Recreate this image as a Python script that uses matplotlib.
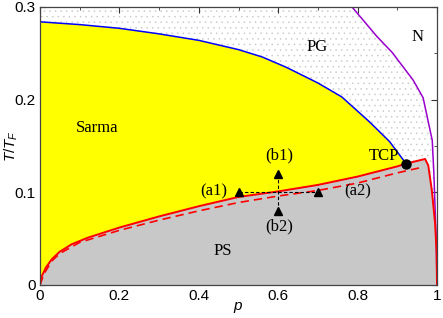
import matplotlib
matplotlib.use("Agg")
import matplotlib.pyplot as plt
from matplotlib.ticker import MultipleLocator

plt.rcParams["mathtext.fontset"] = "custom"
plt.rcParams["mathtext.it"] = "Liberation Sans:italic"
plt.rcParams["mathtext.rm"] = "Liberation Sans"
plt.rcParams["hatch.linewidth"] = 0.3

# Sarma / PS first-order boundary (solid red)
p_ps = [0, 0.004, 0.015, 0.03, 0.05, 0.08, 0.12, 0.2, 0.3, 0.4, 0.5, 0.6, 0.7, 0.8, 0.9, 0.922,
        0.97, 0.978, 0.987, 0.995, 0.999, 1.0]
t_ps = [0, 0.009, 0.019, 0.028, 0.036, 0.044, 0.051, 0.062, 0.074, 0.085, 0.095, 0.101, 0.108,
        0.117, 0.128, 0.131, 0.136, 0.129, 0.102, 0.067, 0.035, 0.0]

# approximate boundary (dashed red)
p_dash = [0, 0.01, 0.03, 0.05, 0.1, 0.2, 0.3, 0.4, 0.5, 0.6, 0.7, 0.8, 0.9, 0.962]
t_dash = [0, 0.012, 0.026, 0.034, 0.046, 0.059, 0.070, 0.080, 0.089, 0.096, 0.102, 0.110, 0.121, 0.127]

# Sarma / PG boundary (blue), ends at the TCP
p_sarma = [0, 0.1, 0.2, 0.3, 0.4, 0.45, 0.5, 0.56, 0.62, 0.7, 0.76, 0.83, 0.88, 0.922]
t_sarma = [0.284, 0.281, 0.277, 0.271, 0.264, 0.259, 0.254, 0.246, 0.235, 0.218, 0.203, 0.176, 0.155, 0.131]

# PG / N boundary (purple)
p_pg = [0.786, 0.849, 0.887, 0.94, 0.965, 0.988, 0.992, 0.998, 1.0]
t_pg = [0.3, 0.268, 0.251, 0.221, 0.202, 0.156, 0.121, 0.049, 0.0]

tcp = (0.922, 0.131)
a_pts = ([0.5, 0.7], [0.1, 0.1])
b_pts = ([0.6, 0.6], [0.12, 0.08])

serif = "Liberation Serif"
sans = "Liberation Sans"

fig = plt.figure(figsize=(4.43, 3.18), dpi=100)
ax = fig.add_axes([0.0903, 0.1038, 0.8962, 0.8742])

# dotted PG region: everything left of the purple line
ax.fill([0, 0] + p_pg, [0, 0.3] + t_pg,
        facecolor="white", edgecolor="#c4c4c4", hatch="...", linewidth=0, zorder=1)

# yellow Sarma region
ax.fill(p_sarma + p_ps[:16][::-1], t_sarma + t_ps[:16][::-1],
        facecolor="#ffff00", edgecolor="none", zorder=2)

# gray PS region
ax.fill(p_ps + [1.0, 0], t_ps + [0, 0], facecolor="#c8c8c8", edgecolor="none", zorder=2)

ax.plot(p_sarma, t_sarma, color="#0000ff", lw=1.1, zorder=3)
ax.plot(p_pg, t_pg, color="#9900cc", lw=1.1, zorder=3)
ax.plot(p_ps, t_ps, color="#ff0000", lw=1.4, zorder=4)
ax.plot(p_dash, t_dash, color="#ff0000", lw=1.2, ls=(0, (5, 3)), zorder=4)

ax.plot(a_pts[0], a_pts[1], color="black", lw=0.8, ls=(0, (3, 2)), zorder=5)
ax.plot(b_pts[0], b_pts[1], color="black", lw=0.8, ls=(0, (3, 2)), zorder=5)
ax.plot(a_pts[0] + b_pts[0], a_pts[1] + b_pts[1], "^", color="black", ms=6, ls="none", zorder=6)
ax.plot(*tcp, "o", color="black", ms=6.5, zorder=6)

txt = dict(fontsize=12, family=serif, ha="center", va="center", zorder=7)
ax.text(0.144, 0.169, "Sarma", **txt)
ax.text(0.698, 0.257, "PG", **txt)
ax.text(0.952, 0.268, "N", **txt)
ax.text(0.866, 0.139, "TCP", **txt)
ax.text(0.461, 0.037, "PS", **txt)
ax.text(0.437, 0.1015, "(a1)", **txt)
ax.text(0.80, 0.1015, "(a2)", **txt)
ax.text(0.603, 0.140, "(b1)", **txt)
ax.text(0.603, 0.063, "(b2)", **txt)

ax.set_xlim(0, 1)
ax.set_ylim(0, 0.3)
ax.set_xticks([0, 0.2, 0.4, 0.6, 0.8, 1])
ax.set_xticklabels(["0", "0.2", "0.4", "0.6", "0.8", "1"])
ax.set_yticks([0, 0.1, 0.2, 0.3])
ax.set_yticklabels(["0", "0.1", "0.2", "0.3"])
ax.xaxis.set_minor_locator(MultipleLocator(0.1))
ax.yaxis.set_minor_locator(MultipleLocator(0.05))
ax.tick_params(which="both", direction="in", top=True, right=True, color="#333333")
ax.tick_params(which="major", length=4, labelsize=11, pad=3)
ax.tick_params(which="minor", length=2)
for lab in ax.get_xticklabels() + ax.get_yticklabels():
    lab.set_family(sans)
for s in ax.spines.values():
    s.set_color("#444444")
    s.set_linewidth(0.9)
    s.set_zorder(8)

ax.set_xlabel("$p$", fontsize=11, labelpad=-2)
ax.set_ylabel("$T/T_F$", fontsize=11, labelpad=-4)

fig.savefig("out.png", dpi=100)
